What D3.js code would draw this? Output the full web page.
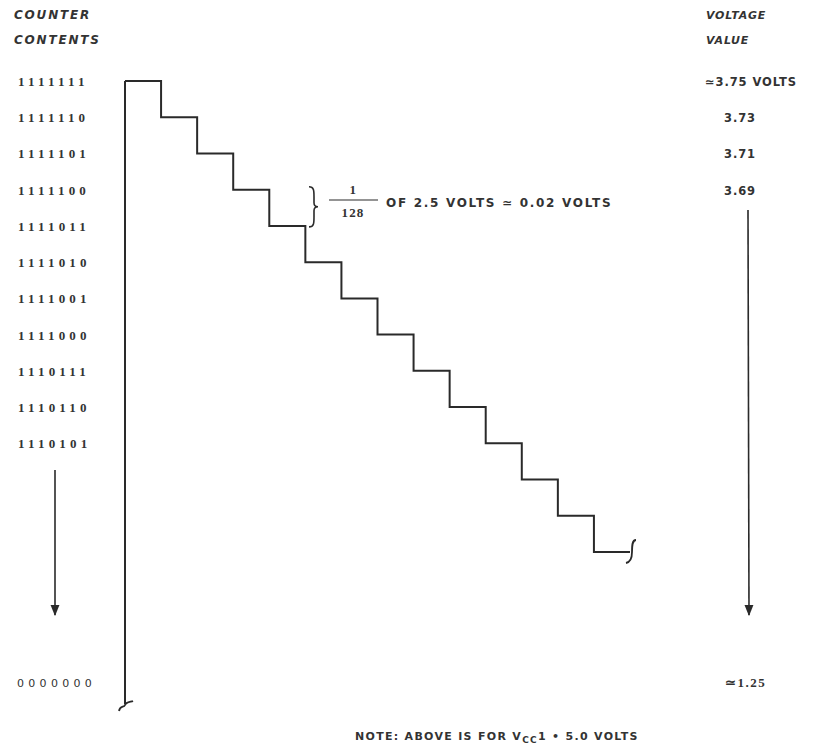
<!DOCTYPE html>
<html><head><meta charset="utf-8">
<script src="https://cdn.jsdelivr.net/npm/d3@7"></script>
<style>body{margin:0;background:#fff}svg{display:block}</style>
</head><body>
<script>
// ---- data ----
const counterLabels = ["1111111","1111110","1111101","1111100","1111011","1111010","1111001","1111000","1110111","1110110","1110101"];
const counts = [127,126,125,124,123,122,121,120,119,118,117,116,115,114];
const voltageLabels = ["\u22433.75 VOLTS","3.73","3.71","3.69"];
const bottomCounter = "0000000";
const bottomVoltage = "\u22431.25";
const stepNote = "OF 2.5 VOLTS \u2243 0.02 VOLTS";

const W = 835, H = 747;
const svg = d3.select("body").append("svg").attr("width", W).attr("height", H);
const ink = "#2a2a2a";

const x = d3.scaleLinear().domain([0, counts.length]).range([125, 630]);
const y = d3.scaleLinear().domain([127, 114]).range([81, 552]);
const yBottom = 700;

// staircase
const pts = counts.map((c, i) => [i, c]);
pts.push([counts.length, counts[counts.length - 1]]);
const line = d3.line().x(d => x(d[0])).y(d => y(d[1])).curve(d3.curveStepAfter);
svg.append("path").attr("d", line(pts)).attr("fill", "none")
  .attr("stroke", ink).attr("stroke-width", 2);

// vertical axis line
svg.append("line").attr("x1", x(0)).attr("x2", x(0)).attr("y1", y(127)).attr("y2", yBottom + 4)
  .attr("stroke", ink).attr("stroke-width", 2);

// squiggle at bottom of axis
svg.append("path").attr("d", `M${x(0)-6},${yBottom+11} C${x(0)-5},${yBottom+5} ${x(0)-1},${yBottom+8} ${x(0)},${yBottom+5} S${x(0)+6},${yBottom+2} ${x(0)+8},${yBottom+1}`)
  .attr("fill", "none").attr("stroke", ink).attr("stroke-width", 1.8);

// squiggle at end of staircase
const ex = x(counts.length), ey = y(counts[counts.length - 1]);
svg.append("path").attr("d", `M${ex+6},${ey-12} C${ex+2},${ey-12} ${ex+2},${ey-6} ${ex+2},${ey} S${ex+1},${ey+10} ${ex-4},${ey+11}`)
  .attr("fill", "none").attr("stroke", ink).attr("stroke-width", 1.8);

const txt = (s, tx, ty, opts = {}) => svg.append("text").text(s).attr("x", tx).attr("y", ty)
  .attr("font-family", opts.family || "DejaVu Sans, sans-serif")
  .attr("font-size", opts.size || 11)
  .attr("font-weight", opts.weight || "bold")
  .attr("font-style", opts.style || "normal")
  .attr("letter-spacing", opts.ls || 0.5)
  .attr("text-anchor", opts.anchor || "start")
  .attr("fill", opts.fill || "#333");

// headers
txt("COUNTER", 14, 19, {style: "italic", size: 12, ls: 1.8});
txt("CONTENTS", 14, 44, {style: "italic", size: 12, ls: 1.8});
txt("VOLTAGE", 706, 19, {style: "italic", ls: 0.8});
txt("VALUE", 706, 44, {style: "italic", ls: 0.8});

// left counter labels
counterLabels.forEach((s, i) => {
  txt(s, 18, y(counts[i]) + 5, {family: "Liberation Serif, serif", size: 13, ls: 4.2});
});
txt(bottomCounter, 17, yBottom - 13, {family: "DejaVu Sans, sans-serif", size: 11, weight: "normal", ls: 4.3});

// right voltage labels
voltageLabels.forEach((s, i) => {
  txt(s, i === 0 ? 705 : 724, y(counts[i]) + 5, {size: 11.5, ls: 0.9});
});
txt(bottomVoltage, 725, yBottom - 13, {family: "Liberation Serif, serif", size: 13, ls: 1.5});

// arrows
const defs = svg.append("defs");
defs.append("marker").attr("id", "ah").attr("viewBox", "0 0 10 10").attr("refX", 9).attr("refY", 5)
  .attr("markerWidth", 7).attr("markerHeight", 9).attr("orient", "auto")
  .append("path").attr("d", "M0,1 L10,5 L0,9 Z").attr("fill", ink);
svg.append("line").attr("x1", 55).attr("x2", 55).attr("y1", 470).attr("y2", 615)
  .attr("stroke", ink).attr("stroke-width", 1.6).attr("marker-end", "url(#ah)");
svg.append("line").attr("x1", 748).attr("x2", 749).attr("y1", 210).attr("y2", 615)
  .attr("stroke", ink).attr("stroke-width", 1.6).attr("marker-end", "url(#ah)");

// brace annotation between levels 124 and 123
const by1 = y(124) - 3, by2 = y(123) + 1, bx = 309, bm = (by1 + by2) / 2;
svg.append("path").attr("d",
  `M${bx},${by1} C${bx+5},${by1} ${bx+5},${by1+4} ${bx+5},${by1+10} L${bx+5},${bm-4} C${bx+5},${bm-1} ${bx+7},${bm} ${bx+9},${bm} C${bx+7},${bm} ${bx+5},${bm+1} ${bx+5},${bm+4} L${bx+5},${by2-10} C${bx+5},${by2-4} ${bx+5},${by2} ${bx},${by2}`)
  .attr("fill", "none").attr("stroke", ink).attr("stroke-width", 1.6);
svg.append("line").attr("x1", 329).attr("x2", 378).attr("y1", 200).attr("y2", 200)
  .attr("stroke", ink).attr("stroke-width", 1.2);
txt("1", 353, 194, {family: "Liberation Serif, serif", size: 13, anchor: "middle"});
txt("128", 353, 217, {family: "Liberation Serif, serif", size: 13, anchor: "middle", ls: 1.2});
txt(stepNote, 386, 207, {size: 12, ls: 1.7});

// bottom note
const note = svg.append("text").attr("x", 355).attr("y", 740)
  .attr("font-family", "DejaVu Sans, sans-serif").attr("font-size", 11).attr("font-weight", "bold")
  .attr("letter-spacing", 1.3).attr("fill", "#333");
note.append("tspan").text("NOTE: ABOVE IS FOR V");
note.append("tspan").text("CC").attr("dy", 3).attr("font-size", 9);
note.append("tspan").text("1 \u2022 5.0 VOLTS").attr("dy", -3);
</script>
</body></html>
